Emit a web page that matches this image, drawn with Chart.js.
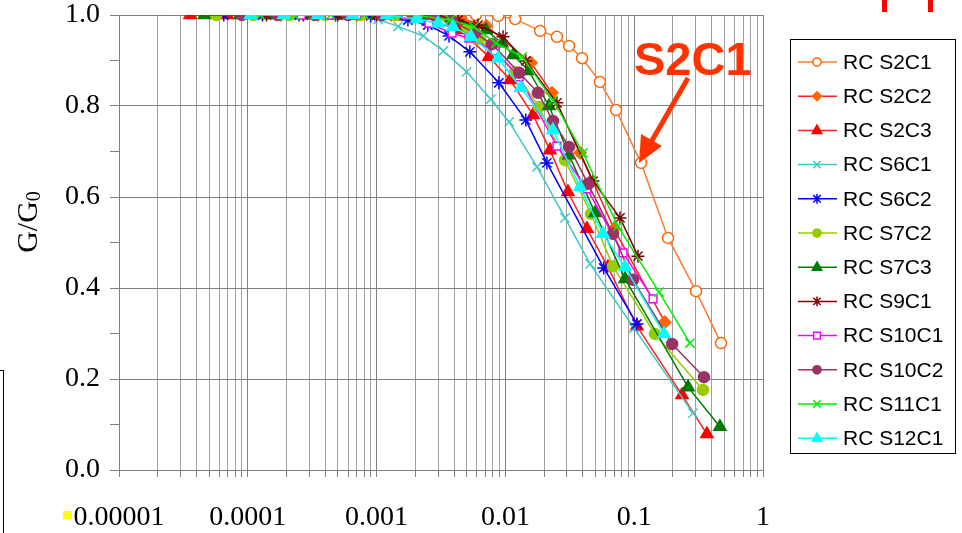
<!DOCTYPE html>
<html lang="en">
<head>
<meta charset="UTF-8">
<script src="https://cdn.jsdelivr.net/npm/chart.js"></script>
<style>
  body { margin: 0; background: #fff; }
</style>
</head>
<body>
<canvas id="myChart" width="962" height="533"></canvas>
<script>
// axis tick labels
var xTickLabels = ['0.00001', '0.0001', '0.001', '0.01', '0.1', '1'];
var yTickLabels = ['0.0', '0.2', '0.4', '0.6', '0.8', '1.0'];

var seriesNames = ['RC S2C1', 'RC S2C2', 'RC S2C3', 'RC S6C1', 'RC S6C2', 'RC S7C2',
                   'RC S7C3', 'RC S9C1', 'RC S10C1', 'RC S10C2', 'RC S11C1', 'RC S12C1'];

// shear strain (%) and G/G0
var s2c1Strain = [0.0015, 0.0023, 0.0041, 0.0059, 0.0088, 0.0119, 0.0186, 0.0251, 0.0312, 0.0394, 0.0542, 0.0723, 0.113, 0.183, 0.302, 0.472];
var s2c1G      = [1.0, 1.0, 1.0, 1.0, 0.998, 0.991, 0.965, 0.952, 0.932, 0.905, 0.853, 0.791, 0.675, 0.51, 0.393, 0.279];

var s2c2Strain = [0.00018, 0.00035, 0.0007, 0.0013, 0.0025, 0.0045, 0.0071, 0.0158, 0.023, 0.038, 0.0697, 0.173];
var s2c2G      = [1.0, 1.0, 1.0, 1.0, 1.0, 0.993, 0.976, 0.895, 0.829, 0.697, 0.530, 0.325];

var s2c3Strain = [0.0000356, 0.000069, 0.00013, 0.00025, 0.00048, 0.0009, 0.0017, 0.0028, 0.00444, 0.00746, 0.0109, 0.0164, 0.0222, 0.0306, 0.043, 0.0626, 0.105, 0.235, 0.367];
var s2c3G      = [1.0, 1.0, 1.0, 1.0, 1.0, 1.0, 1.0, 0.985, 0.967, 0.908, 0.857, 0.780, 0.703, 0.611, 0.530, 0.446, 0.316, 0.165, 0.079];

var s6c1Strain = [0.00012, 0.00022, 0.00042, 0.0007, 0.00103, 0.00147, 0.0023, 0.0033, 0.005, 0.0077, 0.0107, 0.0176, 0.029, 0.0454, 0.0996, 0.286];
var s6c1G      = [1.0, 1.0, 1.0, 1.0, 0.99, 0.975, 0.954, 0.921, 0.875, 0.815, 0.765, 0.666, 0.554, 0.453, 0.312, 0.125];

var s6c2Strain = [0.000065, 0.00013, 0.00025, 0.00048, 0.0009, 0.00175, 0.0025, 0.00365, 0.0053, 0.0089, 0.0144, 0.021, 0.058, 0.105];
var s6c2G      = [1.0, 1.0, 1.0, 1.0, 0.998, 0.989, 0.978, 0.954, 0.919, 0.851, 0.769, 0.675, 0.444, 0.321];

var s7c2Strain = [0.000057, 0.00011, 0.00021, 0.0004, 0.00075, 0.0014, 0.0026, 0.00503, 0.00624, 0.0119, 0.0182, 0.029, 0.0462, 0.0684, 0.145, 0.342];
var s7c2G      = [1.0, 1.0, 1.0, 1.0, 1.0, 1.0, 0.995, 0.974, 0.947, 0.875, 0.798, 0.681, 0.563, 0.448, 0.299, 0.176];

var s7c3Strain = [0.000046, 0.000087, 0.00016, 0.0003, 0.00055, 0.001, 0.0017, 0.00255, 0.00378, 0.00707, 0.0094, 0.0115, 0.0152, 0.0218, 0.0312, 0.0497, 0.0849, 0.262, 0.463];
var s7c3G      = [1.0, 1.0, 1.0, 1.0, 1.0, 1.0, 1.0, 1.0, 0.993, 0.967, 0.938, 0.912, 0.877, 0.800, 0.692, 0.565, 0.420, 0.182, 0.095];

var s9c1Strain = [0.00014, 0.00027, 0.0005, 0.001, 0.0018, 0.00289, 0.00429, 0.00613, 0.00958, 0.0144, 0.0251, 0.0479, 0.0776, 0.107];
var s9c1G      = [1.0, 1.0, 1.0, 1.0, 1.0, 1.0, 0.989, 0.978, 0.952, 0.899, 0.807, 0.635, 0.554, 0.470];

var s10c1Strain = [0.00026, 0.00043, 0.0007, 0.0011, 0.00169, 0.00255, 0.00385, 0.00521, 0.0083, 0.0128, 0.0251, 0.043, 0.0819, 0.14];
var s10c1G      = [1.0, 1.0, 1.0, 1.0, 1.0, 0.982, 0.96, 0.949, 0.921, 0.864, 0.712, 0.618, 0.477, 0.376];

var s10c2Strain = [0.00009, 0.00017, 0.00033, 0.0006, 0.0011, 0.0019, 0.00279, 0.00385, 0.0058, 0.00787, 0.0128, 0.0179, 0.0234, 0.0312, 0.0438, 0.0684, 0.098, 0.197, 0.348];
var s10c2G      = [1.0, 1.0, 1.0, 1.0, 1.0, 1.0, 1.0, 0.987, 0.96, 0.936, 0.873, 0.829, 0.767, 0.71, 0.629, 0.519, 0.418, 0.277, 0.204];

var s11c1Strain = [0.000125, 0.00023, 0.00044, 0.0008, 0.0013, 0.00199, 0.00372, 0.0057, 0.00845, 0.0135, 0.0234, 0.040, 0.0748, 0.156, 0.271];
var s11c1G      = [1.0, 1.0, 1.0, 1.0, 1.0, 1.0, 0.989, 0.974, 0.938, 0.908, 0.813, 0.697, 0.536, 0.391, 0.279];

var s12c1Strain = [0.000105, 0.00019, 0.00035, 0.00065, 0.0012, 0.00206, 0.003, 0.00392, 0.00541, 0.00877, 0.0132, 0.0234, 0.038, 0.0572, 0.0849, 0.17];
var s12c1G      = [1.0, 1.0, 1.0, 1.0, 1.0, 0.991, 0.982, 0.974, 0.952, 0.905, 0.840, 0.747, 0.622, 0.519, 0.446, 0.299];

var allStrain = [s2c1Strain, s2c2Strain, s2c3Strain, s6c1Strain, s6c2Strain, s7c2Strain,
                 s7c3Strain, s9c1Strain, s10c1Strain, s10c2Strain, s11c1Strain, s12c1Strain];
var allG = [s2c1G, s2c2G, s2c3G, s6c1G, s6c2G, s7c2G, s7c3G, s9c1G, s10c1G, s10c2G, s11c1G, s12c1G];

// look of each series: line colour, marker colour, marker fill, marker shape, size
var styles = [
    { line: '#FF7A30', mark: '#FF6600', fill: '#FFFFFF', shape: 'circle',    r: 5.5 },
    { line: '#FF2020', mark: '#FF6600', fill: '#FF6600', shape: 'rectRot',   r: 6 },
    { line: '#FF2020', mark: '#FF0000', fill: '#FF0000', shape: 'triangle',  r: 7 },
    { line: '#40C8C8', mark: '#40C8C8', fill: '#40C8C8', shape: 'crossRot',  r: 6.5 },
    { line: '#0000FF', mark: '#0000FF', fill: '#0000FF', shape: 'star',      r: 6.5 },
    { line: '#99CC00', mark: '#99CC00', fill: '#99CC00', shape: 'circle',    r: 5.5 },
    { line: '#007A00', mark: '#007A00', fill: '#007A00', shape: 'triangle',  r: 7 },
    { line: '#800000', mark: '#800000', fill: '#800000', shape: 'star',      r: 6.5 },
    { line: '#FF00FF', mark: '#FF00FF', fill: '#FFFFFF', shape: 'rect',      r: 5.5 },
    { line: '#993366', mark: '#993366', fill: '#993366', shape: 'circle',    r: 5.5 },
    { line: '#00EE00', mark: '#00EE00', fill: '#00EE00', shape: 'crossRot',  r: 6.5 },
    { line: '#00FFFF', mark: '#00FFFF', fill: '#00FFFF', shape: 'triangle',  r: 7 }
];

var datasets = [];
for (var i = 0; i < seriesNames.length; i++) {
    var pts = [];
    for (var j = 0; j < allStrain[i].length; j++) {
        pts.push({ x: allStrain[i][j], y: allG[i][j] });
    }
    var st = styles[i];
    datasets.push({
        label: seriesNames[i],
        data: pts,
        showLine: true,
        borderColor: st.line,
        borderWidth: 1.5,
        pointStyle: st.shape,
        pointRadius: st.r,
        pointBorderColor: st.mark,
        pointBackgroundColor: st.fill,
        pointBorderWidth: 1.5,
        order: seriesNames.length - i
    });
}

function isDecade(v) {
    var l = Math.log10(v);
    return Math.abs(l - Math.round(l)) < 1e-6;
}

function marker(ctx, shape, x, y, r, stroke, fill) {
    ctx.save();
    ctx.strokeStyle = stroke;
    ctx.fillStyle = fill;
    ctx.lineWidth = 1.5;
    ctx.beginPath();
    if (shape === 'circle') {
        ctx.arc(x, y, r, 0, Math.PI * 2);
        ctx.fill(); ctx.stroke();
    } else if (shape === 'rect') {
        ctx.rect(x - r * 0.8, y - r * 0.8, r * 1.6, r * 1.6);
        ctx.fill(); ctx.stroke();
    } else if (shape === 'rectRot') {
        ctx.moveTo(x, y - r); ctx.lineTo(x + r, y); ctx.lineTo(x, y + r); ctx.lineTo(x - r, y);
        ctx.closePath(); ctx.fill(); ctx.stroke();
    } else if (shape === 'triangle') {
        ctx.moveTo(x, y - r); ctx.lineTo(x + r * 0.9, y + r * 0.6); ctx.lineTo(x - r * 0.9, y + r * 0.6);
        ctx.closePath(); ctx.fill(); ctx.stroke();
    } else if (shape === 'crossRot') {
        var d = r * 0.75;
        ctx.moveTo(x - d, y - d); ctx.lineTo(x + d, y + d);
        ctx.moveTo(x + d, y - d); ctx.lineTo(x - d, y + d);
        ctx.stroke();
    } else if (shape === 'star') {
        var d2 = r * 0.75;
        ctx.moveTo(x - d2, y - d2); ctx.lineTo(x + d2, y + d2);
        ctx.moveTo(x + d2, y - d2); ctx.lineTo(x - d2, y + d2);
        ctx.moveTo(x, y - r); ctx.lineTo(x, y + r);
        ctx.stroke();
    }
    ctx.restore();
}

var extras = {
    id: 'extras',
    afterDraw: function (chart) {
        var ctx = chart.ctx;
        ctx.save();

        // y axis title G/G0
        ctx.translate(29, 222);
        ctx.rotate(-Math.PI / 2);
        ctx.fillStyle = '#000';
        ctx.font = '30px "Liberation Serif", "Times New Roman", serif';
        ctx.textBaseline = 'middle';
        var w1 = ctx.measureText('G/G').width;
        ctx.font = '20px "Liberation Serif", "Times New Roman", serif';
        var w2 = ctx.measureText('0').width;
        var sx = -(w1 + w2) / 2;
        ctx.font = '30px "Liberation Serif", "Times New Roman", serif';
        ctx.fillText('G/G', sx, 0);
        ctx.font = '20px "Liberation Serif", "Times New Roman", serif';
        ctx.fillText('0', sx + w1, 6);
        ctx.restore();

        // legend
        ctx.save();
        ctx.fillStyle = '#fff';
        ctx.fillRect(791, 40, 164, 413);
        ctx.strokeStyle = '#000';
        ctx.lineWidth = 1;
        ctx.strokeRect(790.5, 39.5, 165, 414);
        ctx.font = '21px "Liberation Sans", Arial, sans-serif';
        ctx.textBaseline = 'middle';
        for (var i = 0; i < seriesNames.length; i++) {
            var y = 62 + i * 34.2;
            var st = styles[i];
            ctx.strokeStyle = st.line;
            ctx.lineWidth = 1.5;
            ctx.beginPath();
            ctx.moveTo(798, y); ctx.lineTo(837, y);
            ctx.stroke();
            marker(ctx, st.shape, 817, y, st.r * 0.75, st.mark, st.fill);
            ctx.fillStyle = '#000';
            ctx.fillText(seriesNames[i], 843, y + 1);
        }
        ctx.restore();

        // S2C1 callout
        ctx.save();
        ctx.fillStyle = '#FF3300';
        ctx.strokeStyle = '#FF3300';
        ctx.font = 'bold 47px "Liberation Sans", Arial, sans-serif';
        ctx.textBaseline = 'alphabetic';
        ctx.fillText('S2C1', 634, 75);
        ctx.lineWidth = 5;
        ctx.beginPath();
        ctx.moveTo(688, 78); ctx.lineTo(650, 144);
        ctx.stroke();
        ctx.beginPath();
        ctx.moveTo(639, 163); ctx.lineTo(662, 146); ctx.lineTo(641, 134);
        ctx.closePath();
        ctx.fill();
        ctx.restore();

        // stray bits at the edges of the figure
        ctx.save();
        ctx.fillStyle = '#FF0000';
        ctx.fillRect(882, 0, 5, 12);
        ctx.fillRect(928, 0, 5, 12);
        ctx.fillStyle = '#FFFF00';
        ctx.fillRect(63, 511, 9, 8);
        ctx.strokeStyle = '#000';
        ctx.lineWidth = 1;
        ctx.beginPath();
        ctx.moveTo(0, 370.5); ctx.lineTo(3.5, 370.5); ctx.lineTo(3.5, 533);
        ctx.stroke();
        ctx.restore();
    }
};

var ctx = document.getElementById('myChart').getContext('2d');
var myChart = new Chart(ctx, {
    type: 'scatter',
    data: { datasets: datasets },
    options: {
        responsive: false,
        animation: false,
        layout: { padding: { left: 0, right: 199, top: 15, bottom: 0 } },
        plugins: { legend: { display: false }, tooltip: { enabled: false } },
        scales: {
            x: {
                type: 'logarithmic',
                min: 0.00001,
                max: 1,
                afterBuildTicks: function (scale) {
                    var t = [];
                    for (var e = -5; e < 0; e++) {
                        for (var m = 1; m < 10; m++) t.push({ value: m * Math.pow(10, e) });
                    }
                    t.push({ value: 1 });
                    scale.ticks = t;
                },
                afterFit: function (scale) {
                    scale.height = 63;
                    scale.paddingLeft = 0;
                    scale.paddingRight = 0;
                },
                grid: {
                    color: function (c) { return c.tick && isDecade(c.tick.value) ? '#808080' : '#A0A0A0'; },
                    tickColor: '#808080',
                    tickLength: 7,
                    lineWidth: 1
                },
                border: { color: '#808080', width: 1 },
                ticks: {
                    autoSkip: false,
                    maxRotation: 0,
                    padding: 24,
                    color: '#000',
                    font: { family: '"Liberation Serif", "Times New Roman", serif', size: 28 },
                    callback: function (v) {
                        if (isDecade(v)) return xTickLabels[Math.round(Math.log10(v)) + 5];
                        return '';
                    }
                }
            },
            y: {
                min: 0,
                max: 1,
                afterFit: function (scale) {
                    scale.width = 119;
                    scale.paddingTop = 0;
                    scale.paddingBottom = 0;
                },
                grid: {
                    color: function (c) {
                        if (!c.tick) return 'transparent';
                        return Math.round(c.tick.value * 10) % 2 === 0 ? '#808080' : 'rgba(0,0,0,0)';
                    },
                    tickColor: '#808080',
                    tickLength: 9,
                    lineWidth: 1
                },
                border: { color: '#808080', width: 1 },
                ticks: {
                    stepSize: 0.1,
                    padding: 10,
                    color: '#000',
                    font: { family: '"Liberation Serif", "Times New Roman", serif', size: 28 },
                    callback: function (v) {
                        var k = Math.round(v * 10);
                        return k % 2 === 0 ? yTickLabels[k / 2] : '';
                    }
                }
            }
        }
    },
    plugins: [extras]
});
</script>
</body>
</html>
